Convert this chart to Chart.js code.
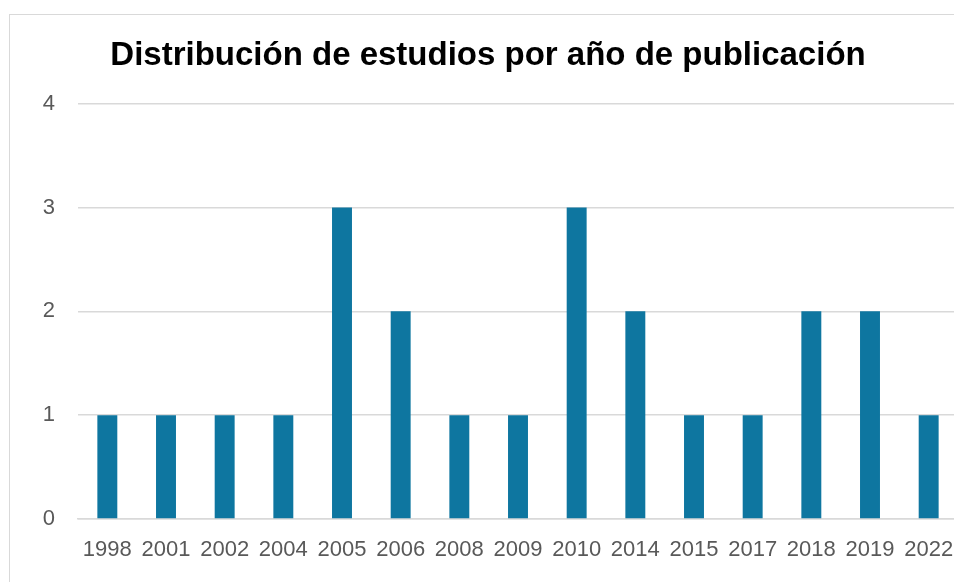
<!DOCTYPE html>
<html lang="es">
<head>
  <meta charset="UTF-8">
  <title>Distribución de estudios por año de publicación</title>
  <style>
    html, body {
      margin: 0;
      padding: 0;
      background: #ffffff;
      overflow: hidden;
      width: 954px;
      height: 582px;
    }
    .frame {
      position: absolute;
      left: 9px;
      top: 14px;
      width: 1000px;
      height: 700px;
      border: 1px solid #d9d9d9;
    }
    #chart {
      position: absolute;
      left: 0;
      top: 0;
    }
  </style>
  <script src="https://cdn.jsdelivr.net/npm/chart.js"></script>
</head>
<body>
  <div class="frame"></div>
  <canvas id="chart" width="976" height="582"></canvas>
  <script>
    // años y número de estudios
    const years = ['1998', '2001', '2002', '2004', '2005', '2006', '2008', '2009', '2010', '2014', '2015', '2017', '2018', '2019', '2022'];
    const studies = [1, 1, 1, 1, 3, 2, 1, 1, 3, 2, 1, 1, 2, 2, 1];
    const yTicks = [0, 1, 2, 3, 4];

    const labelFont = { family: '"Liberation Sans", Arial, sans-serif', size: 22 };

    new Chart(document.getElementById('chart').getContext('2d'), {
      type: 'bar',
      data: {
        labels: years,
        datasets: [{
          data: studies,
          backgroundColor: '#0e76a0',
          borderWidth: 0,
          barPercentage: 1,
          categoryPercentage: 0.34
        }]
      },
      options: {
        responsive: false,
        animation: false,
        // padding izquierda/derecha iguales para centrar el título en 488
        layout: { padding: { left: 18, right: 18, top: 0, bottom: 0 } },
        plugins: {
          legend: { display: false },
          tooltip: { enabled: false },
          title: {
            display: true,
            text: 'Distribución de estudios por año de publicación',
            color: '#000000',
            font: { family: '"Liberation Sans", Arial, sans-serif', size: 33, weight: 'bold', lineHeight: 1.2 },
            padding: { top: 36, bottom: 28 }
          }
        },
        scales: {
          x: {
            grid: { display: false, drawTicks: false },
            border: { display: true, color: '#d9d9d9', width: 1.5 },
            ticks: { color: '#595959', font: labelFont, padding: 18, maxRotation: 0, autoSkip: false },
            afterFit: (scale) => { scale.height = 63; }
          },
          y: {
            min: yTicks[0],
            max: yTicks[yTicks.length - 1],
            grid: { color: '#d9d9d9', lineWidth: 1.5, drawTicks: false },
            border: { display: false },
            ticks: { stepSize: 1, color: '#595959', font: labelFont, padding: 23 },
            afterFit: (scale) => { scale.width = 60; }
          }
        }
      }
    });
  </script>
</body>
</html>
